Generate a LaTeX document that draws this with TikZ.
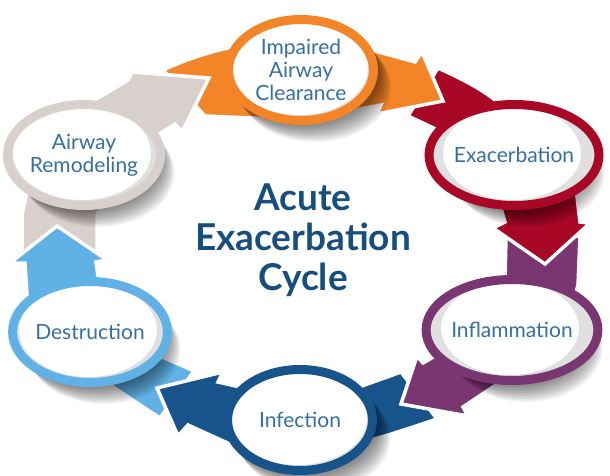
\documentclass[tikz,border=0pt]{standalone}
\usepackage{fontspec}
\setmainfont{Lato}
\usetikzlibrary{shapes.geometric}

\definecolor{cycOrange}{RGB}{244,132,40}
\definecolor{cycRed}{RGB}{168,8,38}
\definecolor{cycPurple}{RGB}{122,54,112}
\definecolor{cycDBlue}{RGB}{24,84,140}
\definecolor{cycLBlue}{RGB}{96,178,230}
\definecolor{cycGray}{RGB}{216,208,204}
\definecolor{stageText}{RGB}{52,112,164}
\definecolor{cycTitle}{RGB}{22,78,128}

\begin{document}
\begin{tikzpicture}[x=1pt,y=-1pt,
  band/.style={draw=white, line width=3.5pt, line join=miter},
  stage/.style={ellipse, draw=#1, line width=9pt, fill=white,
    minimum width=145pt, minimum height=101pt, inner sep=0pt,
    align=center, text=stageText, font=\fontsize{21}{23}\selectfont,
    path picture={\fill[black, opacity=0.12, even odd rule]
      (path picture bounding box.south west) rectangle (path picture bounding box.north east)
      ([shift={(-2,-2)}]path picture bounding box.center) ellipse [x radius=69, y radius=47];}}]
  \useasboundingbox (0,0) rectangle (610,476);

  \coordinate (imp) at (301,70);
  \coordinate (exa) at (514,155);
  \coordinate (inm) at (512,330);
  \coordinate (inf) at (300,420);
  \coordinate (des) at (90,332);
  \coordinate (rem) at (84,155);

  %% Arrows
  \filldraw[fill=cycGray, band] (22,255) -- (22,215) -- (40,130) -- (95,100) -- (128,80)
    -- (132,72) -- (209,78) -- (182,132) -- (175,124) -- (150,140) -- (110,190)
    -- (97,215) -- (97,255) -- cycle;
  \filldraw[fill=cycLBlue, band] (194,371) -- (160,418) .. controls (140,405) and (125,395) .. (110,385)
    -- (60,370) -- (40,320) -- (27,295) -- (25,263) -- (10,263) -- (57,226) -- (107,260)
    -- (96,262) -- (100,290) -- (150,345) -- (160,356) -- cycle;
  \filldraw[fill=cycDBlue, band] (401,372) -- (437,419) .. controls (410,428) and (390,435) .. (370,440)
    -- (300,470) -- (232,445) -- (188,425) -- (178,436) -- (157,388) -- (223,372)
    -- (218,382) -- (240,387) -- (300,370) -- (362,386) -- cycle;
  \filldraw[fill=cycPurple, band] (506,238) -- (580,236) -- (578,285) -- (560,350) -- (493,387)
    -- (463,407) -- (468,416) -- (401,404) -- (417,356) -- (423,363) -- (442,352)
    -- (470,300) -- (505,280) -- cycle;
  \filldraw[fill=cycRed, band] (408,116) -- (438,68) .. controls (460,78) and (480,88) .. (495,100)
    -- (560,110) -- (575,180) -- (580,222) -- (590,223) -- (545,264) -- (493,228)
    -- (505,222) -- (500,205) -- (440,150) -- (442,132) -- cycle;
  \filldraw[fill=cycOrange, band] (163,70) .. controls (185,60) and (205,53) .. (232,47)
    -- (300,40) -- (375,51) -- (415,62) -- (422,52) -- (443,101) -- (377,114)
    -- (381,105) -- (300,120) -- (205,116) .. controls (190,100) and (175,83) .. cycle;
  \begin{scope}
    \clip (110,30) rectangle (240,150);
    \filldraw[fill=cycGray, band] (22,255) -- (22,215) -- (40,130) -- (95,100) -- (128,80)
      -- (132,72) -- (209,78) -- (182,132) -- (175,124) -- (150,140) -- (110,190)
      -- (97,215) -- (97,255) -- cycle;
  \end{scope}

  %% Shadows
  \foreach \c in {imp,exa,inm,inf,des,rem}
    \foreach \k in {1,...,12}
      \fill[black, opacity=0.05] ([shift={(\k*1.2,\k*1.5)}]\c) ellipse [x radius=76, y radius=54];

  %% Stages
  \node[stage=cycOrange] (impNode) at (imp) {Impaired\\Airway\\Clearance};
  \node[stage=cycRed] (exaNode) at (exa) {Exacerbation};
  \node[stage=cycPurple] (inmNode) at (inm) {Inflammation};
  \node[stage=cycDBlue] (infNode) at (inf) {Infection};
  \node[stage=cycLBlue] (desNode) at (des) {Destruction};
  \node[stage=cycGray] (remNode) at (rem) {Airway\\Remodeling};

  \node[font=\bfseries\fontsize{37}{40}\selectfont, text=cycTitle, align=center]
    (title) at (303,240) {Acute\\Exacerbation\\Cycle};

\end{tikzpicture}
\end{document}
